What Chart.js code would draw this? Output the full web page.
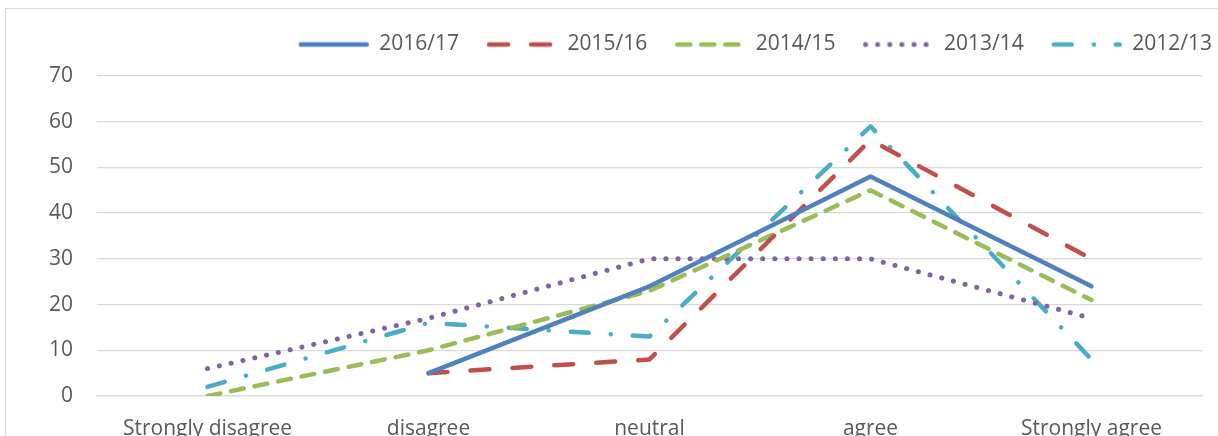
<!DOCTYPE html>
<html>
<head>
<meta charset="utf-8">
<script src="https://cdn.jsdelivr.net/npm/chart.js@4"></script>
<style>
  body { margin: 0; background: #fff; }
  #wrap { position: relative; width: 1218px; height: 436px; overflow: hidden; }
  #frame { position: absolute; left: 5px; top: 8px; width: 1400px; height: 600px; border: 1px solid #d9d9d9; }
  #myChart { position: absolute; left: 0; top: 0; }
</style>
</head>
<body>
<div id="wrap">
  <div id="frame"></div>
  <canvas id="myChart" width="1218" height="436"></canvas>
</div>
<script>
let labels = ['Strongly disagree', 'disagree', 'neutral', 'agree', 'Strongly agree'];

let y2016 = [null, 5, 24, 48, 24];
let y2015 = [null, 5, 8, 56, 30];
let y2014 = [0, 10, 23, 45, 21];
let y2013 = [6, 17, 30, 30, 17];
let y2012 = [2, 16, 13, 59, 8];

let yTicks = [0, 10, 20, 30, 40, 50, 60, 70];

let textColor = '#595959';
let gridColor = '#d9d9d9';

// small canvas with the dashed line, used as the legend symbol
function legendSample(color, dash, width){
    let c = document.createElement('canvas');
    c.width = 72;
    c.height = 10;
    let ctx = c.getContext('2d');
    ctx.strokeStyle = color;
    ctx.lineWidth = width;
    ctx.lineCap = 'round';
    ctx.setLineDash(dash);
    ctx.beginPath();
    ctx.moveTo(3, 5);
    ctx.lineTo(69, 5);
    ctx.stroke();
    return c;
}

function makeSet(name, values, color, dash, width){
    return {
        label: name,
        data: values,
        borderColor: color,
        backgroundColor: color,
        borderWidth: width,
        borderDash: dash,
        borderCapStyle: 'round',
        borderJoinStyle: 'round',
        pointRadius: 0,
        pointHoverRadius: 0,
        pointStyle: legendSample(color, dash, width),
        tension: 0,
        fill: false
    };
}

let data = {
    labels: labels,
    datasets: [
        makeSet('2016/17', y2016, '#4f81bd', [], 4.5),
        makeSet('2015/16', y2015, '#c0504d', [19, 23], 4.5),
        makeSet('2014/15', y2014, '#9bbb59', [13, 11], 4.5),
        makeSet('2013/14', y2013, '#8064a2', [0.1, 12], 5),
        makeSet('2012/13', y2012, '#4bacc6', [18, 22, 0.1, 22], 4.5)
    ]
};

// legend sits further right and a bit tighter than chart.js puts it
let legendPlace = {
    id: 'legendPlace',
    beforeInit(chart){
        let fit = chart.legend.fit;
        chart.legend.fit = function(){
            fit.call(this);
            this.height = 70;
        };
    },
    afterLayout(chart){
        chart.legend.left += 38;
        chart.legend.right += 38;
    }
};

let config = {
    type: 'line',
    data: data,
    plugins: [legendPlace],
    options: {
        responsive: false,
        animation: false,
        devicePixelRatio: 1,
        layout: { padding: { top: 6, right: 16, bottom: 0, left: 0 } },
        plugins: {
            legend: {
                position: 'top',
                align: 'end',
                labels: {
                    usePointStyle: true,
                    pointStyleWidth: 70,
                    padding: 28,
                    color: textColor,
                    font: { family: 'Open Sans', size: 21 }
                }
            },
            tooltip: { enabled: false }
        },
        scales: {
            x: {
                offset: true,
                afterFit: function(s){ s.height = 40; },
                grid: { display: false, drawTicks: false, offset: true },
                border: { color: gridColor, width: 1.3 },
                ticks: {
                    color: textColor,
                    padding: 20,
                    maxRotation: 0,
                    autoSkip: false,
                    font: { family: 'Open Sans', size: 21 }
                }
            },
            y: {
                min: 0,
                max: 70,
                afterFit: function(s){ s.width = 97; },
                afterBuildTicks: function(s){ s.ticks = yTicks.map(function(v){ return { value: v }; }); },
                grid: { color: gridColor, lineWidth: 1.3, drawTicks: false },
                border: { display: false },
                ticks: {
                    color: textColor,
                    padding: 24,
                    font: { family: 'Open Sans', size: 21 }
                }
            }
        }
    }
};

let myChart = new Chart(document.getElementById('myChart'), config);
</script>
</body>
</html>
